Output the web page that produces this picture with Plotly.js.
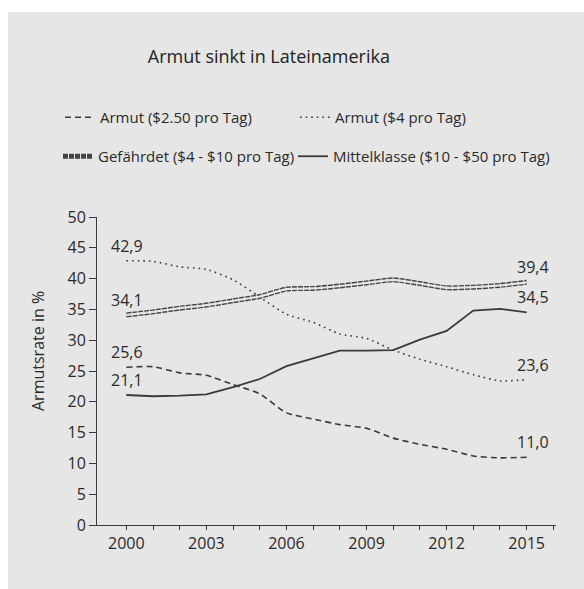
<!DOCTYPE html>
<html>
<head>
<meta charset="utf-8">
<script src="https://cdn.plot.ly/plotly-3.0.1.min.js"></script>
<style>
html,body{margin:0;padding:0;background:#ffffff;}
#chart{position:absolute;left:8px;top:12px;width:576px;height:577px;}
</style>
</head>
<body>
<div id="chart"></div>
<script>
const years = [2000,2001,2002,2003,2004,2005,2006,2007,2008,2009,2010,2011,2012,2013,2014,2015];
const armut250 = [25.6,25.7,24.7,24.3,22.8,21.3,18.2,17.2,16.3,15.7,14.1,13.1,12.3,11.2,10.9,11.0];
const armut4 = [42.9,42.8,41.9,41.5,39.8,37.0,34.2,32.9,31.0,30.3,28.4,26.9,25.7,24.4,23.4,23.6];
const gefaehrdet = [34.1,34.6,35.2,35.7,36.4,37.1,38.3,38.4,38.8,39.3,39.8,39.2,38.5,38.6,38.9,39.4];
const mittelklasse = [21.1,20.9,21.0,21.2,22.4,23.7,25.8,27.1,28.3,28.3,28.4,30.1,31.5,34.8,35.1,34.5];
const names = ["Armut ($2.50 pro Tag)","Armut ($4 pro Tag)","Gefährdet ($4 - $10 pro Tag)","Mittelklasse ($10 - $50 pro Tag)"];
const xTickVals = years.concat([2016]);
const xTickText = xTickVals.map(y => ((y - 2000) % 3 === 0 && y <= 2015) ? String(y) : "");
const yTicks = [0,5,10,15,20,25,30,35,40,45,50];

const ink = "#3a3a3a";
const bg = "#e6e6e6";
const FONT = "'Open Sans', Roboto, sans-serif";
const TXT = "#2a2a2a";

const traces = [
  {x: years, y: armut250, name: names[0], mode: "lines", legend: "legend",
   line: {color: ink, width: 1.6, dash: "6px,4px", shape: "spline", smoothing: 0.6}},
  {x: years, y: armut4, name: names[1], mode: "lines", legend: "legend2",
   line: {color: ink, width: 1.6, dash: "1.6px,4px", shape: "spline", smoothing: 0.6}},
  {x: years, y: gefaehrdet, name: names[2], mode: "lines", legend: "legend3", legendgroup: "g",
   line: {color: "#444444", width: 5, dash: "5px,1px", shape: "spline", smoothing: 0.6}},
  {x: years, y: gefaehrdet, name: names[2], mode: "lines", legend: "legend3", showlegend: false, legendgroup: "g", hoverinfo: "skip",
   line: {color: bg, width: 2.2, shape: "spline", smoothing: 0.6}},
  {x: years, y: mittelklasse, name: names[3], mode: "lines", legend: "legend4",
   line: {color: ink, width: 1.8}}
];

const series = [armut250, armut4, gefaehrdet, mittelklasse];
const fmt = v => v.toFixed(1).replace(".", ",");
const annotations = [];
series.forEach(s => {
  annotations.push({x: years[0], y: s[0], text: fmt(s[0]), showarrow: false, xanchor: "center", yanchor: "middle", yshift: 15, xshift: 1,
    font: {family: FONT, size: 16, color: TXT}});
  const n = s.length - 1;
  annotations.push({x: years[n], y: s[n], text: fmt(s[n]), showarrow: false, xanchor: "center", yanchor: "middle", yshift: 15, xshift: 6,
    font: {family: FONT, size: 16, color: TXT}});
});

const plotH = 577 - 205 - 64;
const legY = py => (513 - py) / plotH;
const legX = px => (px - 89) / 459;

// y-axis title as a rotated annotation (it sits above the plot centre in the reference)
annotations.push({xref: "paper", yref: "paper", x: legX(30), y: legY(339), text: "Armutsrate in %", textangle: -90,
  showarrow: false, xanchor: "center", yanchor: "middle", font: {family: FONT, size: 16, color: TXT}});

const legBase = {orientation: "h", xref: "paper", yref: "paper", xanchor: "left", yanchor: "top",
  bgcolor: "rgba(0,0,0,0)", font: {family: FONT, size: 15, color: TXT}, itemwidth: 30, traceorder: "normal"};

const layout = {
  width: 576, height: 577,
  paper_bgcolor: bg, plot_bgcolor: bg,
  margin: {l: 89, r: 28, t: 205, b: 64},
  font: {family: FONT, color: TXT, size: 14},
  title: {text: "Armut sinkt in Lateinamerika", font: {family: FONT, size: 18, color: "#222"},
          xref: "container", x: 0.453, xanchor: "center", yref: "container", y: 1 - 45/577, yanchor: "middle"},
  xaxis: {range: [1998.9, 2016.1], tickvals: xTickVals, ticktext: xTickText, ticks: "outside", ticklen: 4, tickwidth: 1,
          tickcolor: ink, showline: true, linecolor: ink, linewidth: 1, showgrid: false, zeroline: false,
          tickfont: {family: FONT, size: 16, color: TXT}},
  yaxis: {range: [0, 50], tickvals: yTicks, ticks: "outside", ticklen: 7, tickwidth: 1, tickcolor: ink,
          showline: true, linecolor: ink, linewidth: 1, showgrid: false, zeroline: false,
          tickfont: {family: FONT, size: 16, color: TXT}},
  showlegend: true,
  legend: Object.assign({}, legBase, {x: legX(52), y: legY(89)}),
  legend2: Object.assign({}, legBase, {x: legX(287), y: legY(89)}),
  legend3: Object.assign({}, legBase, {x: legX(50), y: legY(128)}),
  legend4: Object.assign({}, legBase, {x: legX(285), y: legY(128)}),
  annotations: annotations
};

Plotly.newPlot("chart", traces, layout, {displayModeBar: false, staticPlot: true});
</script>
</body>
</html>
